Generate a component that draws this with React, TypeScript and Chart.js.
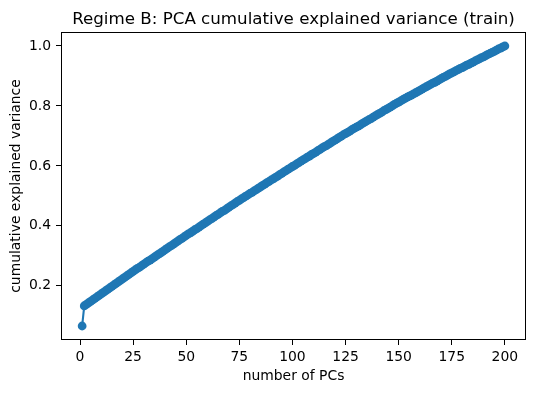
import React, { useEffect, useRef } from "react";
import { Chart, registerables } from "chart.js";

Chart.register(...registerables);

const TITLE = "Regime B: PCA cumulative explained variance (train)";
const X_LABEL = "number of PCs";
const Y_LABEL = "cumulative explained variance";
const X_TICKS = [0, 25, 50, 75, 100, 125, 150, 175, 200];
const Y_TICKS = [0.2, 0.4, 0.6, 0.8, 1.0];

const cumVar1to25 = [
  0.066, 0.133, 0.138, 0.143, 0.148, 0.153, 0.158, 0.163, 0.168, 0.173,
  0.178, 0.183, 0.188, 0.193, 0.198, 0.203, 0.208, 0.213, 0.218, 0.223,
  0.228, 0.233, 0.238, 0.243, 0.248,
];
const cumVar26to50 = [
  0.253, 0.258, 0.262, 0.267, 0.272, 0.277, 0.282, 0.286, 0.291, 0.296,
  0.301, 0.306, 0.31, 0.315, 0.32, 0.325, 0.33, 0.334, 0.339, 0.344,
  0.349, 0.354, 0.358, 0.363, 0.368,
];
const cumVar51to75 = [
  0.373, 0.377, 0.382, 0.387, 0.391, 0.396, 0.401, 0.406, 0.41, 0.415,
  0.42, 0.424, 0.429, 0.434, 0.438, 0.443, 0.448, 0.452, 0.457, 0.462,
  0.467, 0.471, 0.476, 0.481, 0.485,
];
const cumVar76to100 = [
  0.49, 0.494, 0.499, 0.503, 0.508, 0.512, 0.517, 0.521, 0.526, 0.53,
  0.535, 0.539, 0.544, 0.548, 0.553, 0.557, 0.562, 0.566, 0.571, 0.575,
  0.58, 0.584, 0.589, 0.593, 0.598,
];
const cumVar101to125 = [
  0.602, 0.607, 0.611, 0.616, 0.62, 0.624, 0.629, 0.633, 0.638, 0.642,
  0.646, 0.651, 0.655, 0.66, 0.664, 0.668, 0.673, 0.677, 0.682, 0.686,
  0.69, 0.695, 0.699, 0.704, 0.708,
];
const cumVar126to150 = [
  0.712, 0.716, 0.721, 0.725, 0.729, 0.733, 0.737, 0.742, 0.746, 0.75,
  0.754, 0.758, 0.763, 0.767, 0.771, 0.775, 0.779, 0.784, 0.788, 0.792,
  0.796, 0.8, 0.805, 0.809, 0.813,
];
const cumVar151to175 = [
  0.817, 0.821, 0.825, 0.829, 0.833, 0.836, 0.84, 0.844, 0.848, 0.852,
  0.856, 0.86, 0.864, 0.868, 0.872, 0.876, 0.879, 0.883, 0.887, 0.891,
  0.895, 0.899, 0.903, 0.907, 0.91,
];
const cumVar176to200 = [
  0.914, 0.918, 0.921, 0.925, 0.928, 0.932, 0.936, 0.939, 0.943, 0.946,
  0.95, 0.954, 0.957, 0.961, 0.964, 0.968, 0.972, 0.975, 0.979, 0.982,
  0.986, 0.99, 0.993, 0.997, 1.0,
];

const cumVar = [
  ...cumVar1to25, ...cumVar26to50, ...cumVar51to75, ...cumVar76to100,
  ...cumVar101to125, ...cumVar126to150, ...cumVar151to175, ...cumVar176to200,
];
const nPCs = cumVar.map((_, i) => i + 1);

const FONT = "'DejaVu Sans', sans-serif";
const BLUE = "#1f77b4";
const TICK_SIZE = 13.9;
const TITLE_SIZE = 16.7;

export default function App() {
  const ref = useRef<HTMLCanvasElement | null>(null);

  useEffect(() => {
    document.body.style.margin = "0";
    const canvas = ref.current;
    if (!canvas) return;

    const frame = {
      id: "frame",
      afterDraw(chart: any) {
        const { ctx, chartArea } = chart;
        ctx.save();
        ctx.strokeStyle = "#000";
        ctx.lineWidth = 1;
        ctx.strokeRect(
          Math.round(chartArea.left) + 0.5,
          Math.round(chartArea.top) + 0.5,
          Math.round(chartArea.right - chartArea.left) - 1,
          Math.round(chartArea.bottom - chartArea.top) - 1
        );
        ctx.fillStyle = "#000";
        ctx.font = `${TITLE_SIZE}px ${FONT}`;
        ctx.textAlign = "center";
        ctx.textBaseline = "alphabetic";
        ctx.fillText(TITLE, (chartArea.left + chartArea.right) / 2, 24);
        ctx.restore();
      },
    };

    const axisCommon = {
      grid: {
        display: true,
        drawOnChartArea: false,
        drawTicks: true,
        tickLength: 5,
        color: "#000",
      },
      border: { display: false },
    };

    const chart = new Chart(canvas, {
      type: "line",
      data: {
        labels: nPCs,
        datasets: [
          {
            data: nPCs.map((x, i) => ({ x, y: cumVar[i] })),
            borderColor: BLUE,
            backgroundColor: BLUE,
            borderWidth: 2.1,
            pointRadius: 4.4,
            pointBorderWidth: 0,
            pointBackgroundColor: BLUE,
            tension: 0,
          },
        ],
      },
      options: {
        animation: false,
        responsive: false,
        layout: { padding: { top: 32, right: 10, left: 0, bottom: 0 } },
        plugins: {
          legend: { display: false },
          tooltip: { enabled: false },
          title: { display: false },
        },
        scales: {
          x: {
            type: "linear",
            min: -8.95,
            max: 209.95,
            afterBuildTicks: (s: any) => {
              s.ticks = X_TICKS.map((v) => ({ value: v }));
            },
            afterFit: (s: any) => {
              s.height = 53;
            },
            ...axisCommon,
            ticks: {
              color: "#000",
              font: { family: FONT, size: TICK_SIZE },
              padding: 4,
              maxRotation: 0,
              autoSkip: false,
            },
            title: {
              display: true,
              text: X_LABEL,
              color: "#000",
              font: { family: FONT, size: TICK_SIZE },
              padding: { top: 0, bottom: 8 },
            },
          },
          y: {
            type: "linear",
            min: 0.0193,
            max: 1.0467,
            afterBuildTicks: (s: any) => {
              s.ticks = Y_TICKS.map((v) => ({ value: v }));
            },
            afterFit: (s: any) => {
              s.width = 61;
            },
            ...axisCommon,
            ticks: {
              color: "#000",
              font: { family: FONT, size: TICK_SIZE },
              padding: 5,
              autoSkip: false,
              callback: (v: any) => Number(v).toFixed(1),
            },
            title: {
              display: true,
              text: Y_LABEL,
              color: "#000",
              font: { family: FONT, size: TICK_SIZE },
              padding: { top: 8, bottom: 0 },
            },
          },
        },
      },
      plugins: [frame],
    });

    return () => chart.destroy();
  }, []);

  return (
    <div style={{ width: 536, height: 393, background: "#fff" }}>
      <canvas ref={ref} width={536} height={393} style={{ display: "block" }} />
    </div>
  );
}
